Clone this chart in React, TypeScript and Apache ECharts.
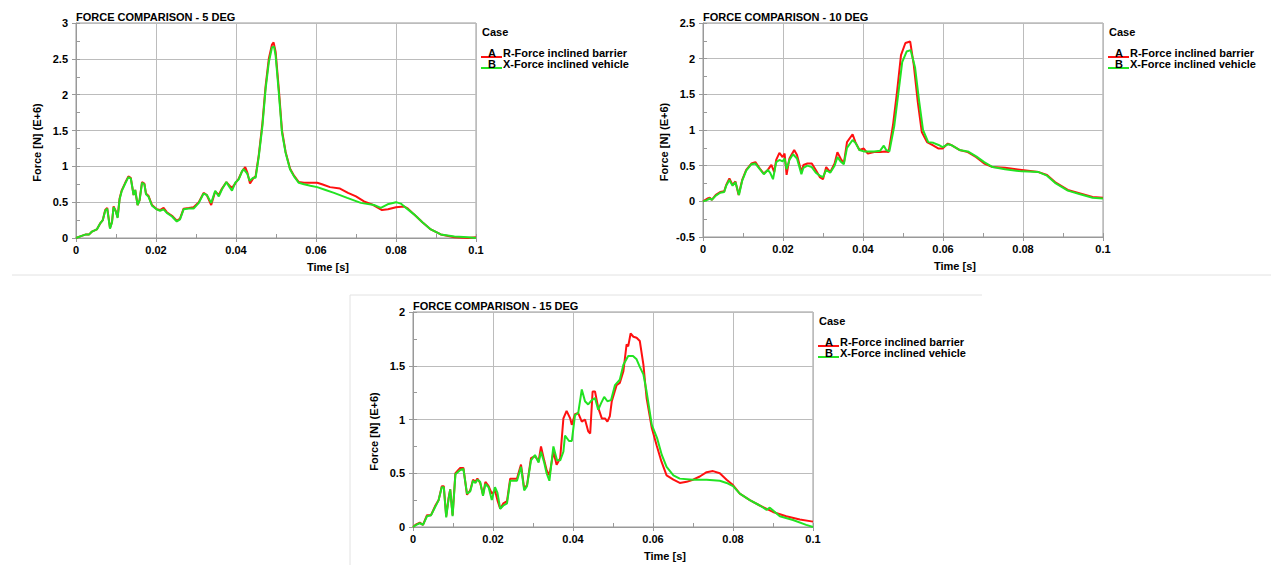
import React, { useEffect, useRef } from "react";
import * as echarts from "echarts";

const FONT = "'Liberation Sans', Arial, Helvetica, sans-serif";
const RED = "#ff1010";
const GREEN = "#22e322";

const titles = ["FORCE COMPARISON - 5 DEG", "FORCE COMPARISON - 10 DEG", "FORCE COMPARISON - 15 DEG"];
const caseLabels = ["A", "B"];
const seriesNames = ["R-Force inclined barrier", "X-Force inclined vehicle"];
const xName = "Time [s]";
const yName = "Force [N] (E+6)";
const legendTitle = "Case";

const xMin = 0, xMax = 0.1, xStep = 0.02;
const yRanges = [
  [0, 3],
  [-0.5, 2.5],
  [0, 2],
];
const yStep = 0.5;

const deg5Barrier = [
  [0, 0], [0.0014, 0.03], [0.0025, 0.05], [0.0033, 0.05], [0.004, 0.09], [0.0052, 0.12], [0.006, 0.2], [0.0067, 0.25],
  [0.0073, 0.39], [0.0078, 0.42], [0.0085, 0.14], [0.009, 0.22], [0.0094, 0.44], [0.0099, 0.38], [0.0104, 0.29],
  [0.0109, 0.55], [0.0114, 0.66], [0.0123, 0.77], [0.0131, 0.86], [0.0137, 0.84], [0.0144, 0.6], [0.0148, 0.67],
  [0.0154, 0.46], [0.0159, 0.53], [0.0165, 0.78], [0.0171, 0.76], [0.0175, 0.62], [0.0181, 0.59], [0.019, 0.46],
  [0.0202, 0.4], [0.021, 0.39], [0.0219, 0.42], [0.0227, 0.36], [0.024, 0.31], [0.0252, 0.24], [0.026, 0.27],
  [0.0269, 0.41], [0.0282, 0.42], [0.0294, 0.43], [0.0307, 0.5], [0.0319, 0.63], [0.0327, 0.6], [0.0338, 0.46],
  [0.0348, 0.65], [0.0357, 0.6], [0.0365, 0.69], [0.0376, 0.78], [0.0384, 0.73], [0.039, 0.7], [0.0398, 0.76],
  [0.0407, 0.83], [0.0415, 0.93], [0.0423, 0.99], [0.0428, 0.92], [0.0435, 0.76], [0.0443, 0.83], [0.0449, 0.86],
  [0.0457, 1.16], [0.0466, 1.6], [0.0474, 2.12], [0.0482, 2.5], [0.049, 2.7], [0.0494, 2.73], [0.0499, 2.6],
  [0.0507, 2.08], [0.0515, 1.5], [0.0524, 1.2], [0.0535, 0.97], [0.0545, 0.87], [0.0557, 0.78], [0.057, 0.77],
  [0.0586, 0.77], [0.0603, 0.77], [0.0615, 0.75], [0.0635, 0.71], [0.066, 0.69], [0.068, 0.63], [0.07, 0.58],
  [0.072, 0.51], [0.074, 0.47], [0.0765, 0.39], [0.078, 0.4], [0.08, 0.43], [0.082, 0.44], [0.083, 0.41],
  [0.0845, 0.33], [0.0866, 0.22], [0.0887, 0.12], [0.0912, 0.05], [0.0946, 0.01], [0.098, 0.0], [0.1, 0.01],
];

const deg5Vehicle = [
  [0, 0], [0.0014, 0.03], [0.0025, 0.05], [0.0033, 0.05], [0.004, 0.09], [0.0052, 0.12], [0.006, 0.2], [0.0067, 0.25],
  [0.0073, 0.38], [0.0078, 0.41], [0.0085, 0.13], [0.009, 0.22], [0.0094, 0.43], [0.0099, 0.38], [0.0104, 0.28],
  [0.0109, 0.54], [0.0114, 0.65], [0.0123, 0.76], [0.0131, 0.85], [0.0137, 0.83], [0.0144, 0.6], [0.0148, 0.67],
  [0.0154, 0.46], [0.0159, 0.53], [0.0165, 0.77], [0.0171, 0.75], [0.0175, 0.61], [0.0181, 0.58], [0.019, 0.45],
  [0.0202, 0.4], [0.021, 0.38], [0.0219, 0.4], [0.0227, 0.35], [0.024, 0.3], [0.0252, 0.23], [0.026, 0.26],
  [0.0269, 0.4], [0.0282, 0.41], [0.0294, 0.41], [0.0307, 0.49], [0.0319, 0.62], [0.0327, 0.6], [0.0338, 0.49],
  [0.0348, 0.66], [0.0357, 0.58], [0.0365, 0.68], [0.0376, 0.78], [0.0384, 0.71], [0.039, 0.66], [0.0398, 0.77],
  [0.0407, 0.82], [0.0415, 0.93], [0.0419, 0.96], [0.0428, 0.9], [0.0434, 0.8], [0.0443, 0.84], [0.0449, 0.84],
  [0.0457, 1.14], [0.0466, 1.56], [0.0474, 2.08], [0.0482, 2.45], [0.049, 2.66], [0.0495, 2.67], [0.0499, 2.55],
  [0.0507, 2.03], [0.0515, 1.47], [0.0524, 1.19], [0.0535, 0.96], [0.0545, 0.86], [0.0557, 0.77], [0.057, 0.75],
  [0.0586, 0.73], [0.0603, 0.71], [0.0624, 0.67], [0.0645, 0.63], [0.0678, 0.56], [0.0712, 0.49], [0.0745, 0.46],
  [0.0762, 0.42], [0.0779, 0.47], [0.08, 0.5], [0.0812, 0.48], [0.0825, 0.42], [0.0845, 0.33], [0.0866, 0.22],
  [0.0887, 0.12], [0.0912, 0.05], [0.0946, 0.02], [0.098, 0.01], [0.1, 0],
];

const deg10Barrier = [
  [0, 0], [0.0011, 0.04], [0.0017, 0.05], [0.0022, 0.02], [0.0032, 0.09], [0.0043, 0.13], [0.0053, 0.14],
  [0.0058, 0.23], [0.0066, 0.32], [0.0074, 0.23], [0.0081, 0.28], [0.0089, 0.09], [0.0098, 0.3], [0.0108, 0.44],
  [0.0121, 0.53], [0.0131, 0.55], [0.0142, 0.46], [0.0152, 0.39], [0.0162, 0.44], [0.0171, 0.51], [0.0178, 0.41],
  [0.0183, 0.58], [0.0191, 0.68], [0.0199, 0.62], [0.0204, 0.67], [0.0209, 0.37], [0.0216, 0.6], [0.0228, 0.72],
  [0.0235, 0.65], [0.0246, 0.41], [0.0251, 0.51], [0.0261, 0.53], [0.0272, 0.53], [0.0282, 0.44], [0.0292, 0.34],
  [0.03, 0.31], [0.0308, 0.48], [0.0318, 0.41], [0.0329, 0.53], [0.0336, 0.69], [0.0344, 0.6], [0.0352, 0.53],
  [0.036, 0.83], [0.0374, 0.94], [0.0381, 0.83], [0.0391, 0.72], [0.0402, 0.74], [0.0412, 0.67], [0.0428, 0.69],
  [0.0443, 0.69], [0.0456, 0.7], [0.0464, 0.69], [0.0475, 1.07], [0.0485, 1.53], [0.0495, 2.05], [0.0506, 2.22],
  [0.0518, 2.24], [0.0527, 1.91], [0.0537, 1.39], [0.0547, 0.97], [0.056, 0.83], [0.0573, 0.79], [0.0589, 0.74],
  [0.0599, 0.74], [0.0612, 0.81], [0.062, 0.79], [0.0641, 0.72], [0.0662, 0.69], [0.0683, 0.62], [0.0703, 0.53],
  [0.0724, 0.48], [0.0755, 0.47], [0.0797, 0.44], [0.0839, 0.41], [0.086, 0.37], [0.088, 0.27], [0.0912, 0.16],
  [0.0943, 0.11], [0.0974, 0.06], [0.1, 0.05],
];

const deg10Vehicle = [
  [0, 0], [0.0011, 0.02], [0.0017, 0.04], [0.0022, 0.02], [0.0032, 0.08], [0.0043, 0.12], [0.0053, 0.13],
  [0.0058, 0.22], [0.0066, 0.3], [0.0074, 0.22], [0.0081, 0.27], [0.009, 0.09], [0.0098, 0.29], [0.0108, 0.43],
  [0.0121, 0.52], [0.0131, 0.53], [0.0142, 0.45], [0.0152, 0.38], [0.0162, 0.44], [0.0168, 0.4], [0.0175, 0.31],
  [0.0183, 0.55], [0.0191, 0.58], [0.0199, 0.56], [0.0204, 0.6], [0.0209, 0.45], [0.0216, 0.58], [0.0225, 0.66],
  [0.0235, 0.6], [0.0246, 0.38], [0.0251, 0.47], [0.0261, 0.5], [0.0272, 0.48], [0.0282, 0.4], [0.0292, 0.36],
  [0.03, 0.34], [0.0308, 0.44], [0.0318, 0.4], [0.0329, 0.5], [0.0336, 0.62], [0.0344, 0.56], [0.0352, 0.52],
  [0.036, 0.75], [0.0374, 0.86], [0.0381, 0.82], [0.0391, 0.72], [0.0402, 0.7], [0.0412, 0.7], [0.0428, 0.7],
  [0.0443, 0.71], [0.0452, 0.78], [0.0458, 0.72], [0.0466, 0.7], [0.0478, 1.05], [0.0488, 1.5], [0.0498, 1.95],
  [0.0509, 2.1], [0.0519, 2.12], [0.053, 1.88], [0.054, 1.42], [0.055, 1.0], [0.0563, 0.83], [0.0576, 0.82],
  [0.0589, 0.79], [0.0599, 0.76], [0.0612, 0.8], [0.062, 0.79], [0.0641, 0.72], [0.0662, 0.7], [0.0683, 0.63],
  [0.0703, 0.55], [0.0724, 0.48], [0.0755, 0.45], [0.0797, 0.42], [0.0839, 0.41], [0.086, 0.36], [0.088, 0.26],
  [0.0912, 0.15], [0.0943, 0.1], [0.0974, 0.05], [0.1, 0.04],
];

const deg15Barrier = [
  [0, 0], [0.0008, 0.025], [0.0017, 0.04], [0.0025, 0.02], [0.0035, 0.11], [0.0045, 0.11], [0.0056, 0.2],
  [0.0064, 0.25], [0.0072, 0.38], [0.0077, 0.38], [0.0083, 0.1], [0.0089, 0.27], [0.0093, 0.35], [0.0099, 0.11],
  [0.0106, 0.5], [0.0118, 0.55], [0.0126, 0.55], [0.0135, 0.3], [0.0143, 0.34], [0.015, 0.44], [0.0156, 0.42],
  [0.0161, 0.45], [0.0168, 0.41], [0.0175, 0.3], [0.0181, 0.42], [0.0189, 0.38], [0.0197, 0.31], [0.0205, 0.34],
  [0.0211, 0.25], [0.0218, 0.17], [0.0226, 0.22], [0.0235, 0.24], [0.0243, 0.45], [0.0251, 0.45], [0.026, 0.45],
  [0.027, 0.58], [0.0278, 0.36], [0.0285, 0.39], [0.0295, 0.64], [0.0305, 0.66], [0.0314, 0.61], [0.032, 0.75],
  [0.0328, 0.62], [0.0334, 0.53], [0.0341, 0.48], [0.0351, 0.7], [0.0359, 0.58], [0.0368, 0.64], [0.0376, 1.01],
  [0.0384, 1.08], [0.0393, 1.01], [0.0397, 0.95], [0.0405, 1.05], [0.0413, 1.06], [0.0422, 0.98], [0.043, 1.0],
  [0.0438, 0.89], [0.0443, 0.87], [0.0449, 1.26], [0.0455, 1.26], [0.0463, 1.11], [0.0472, 1.01], [0.048, 1.01],
  [0.0486, 0.98], [0.0492, 1.03], [0.0497, 1.17], [0.0509, 1.32], [0.0517, 1.34], [0.0526, 1.45], [0.0534, 1.7],
  [0.0538, 1.68], [0.0544, 1.8], [0.0551, 1.77], [0.0559, 1.76], [0.0567, 1.73], [0.0576, 1.51], [0.0584, 1.2],
  [0.0597, 0.92], [0.0609, 0.76], [0.0621, 0.61], [0.0634, 0.48], [0.0651, 0.44], [0.0667, 0.41], [0.0684, 0.42],
  [0.07, 0.44], [0.0717, 0.47], [0.0734, 0.51], [0.075, 0.52], [0.0767, 0.5], [0.0784, 0.44], [0.08, 0.39],
  [0.0817, 0.31], [0.0842, 0.25], [0.0867, 0.2], [0.09, 0.14], [0.0933, 0.1], [0.0967, 0.07], [0.1, 0.05],
];

const deg15Vehicle = [
  [0, 0], [0.0008, 0.02], [0.0017, 0.035], [0.0025, 0.02], [0.0035, 0.1], [0.0045, 0.11], [0.0056, 0.19],
  [0.0064, 0.25], [0.0072, 0.37], [0.0077, 0.37], [0.0083, 0.09], [0.0089, 0.26], [0.0093, 0.35], [0.0099, 0.1],
  [0.0106, 0.49], [0.0118, 0.53], [0.0126, 0.54], [0.0135, 0.31], [0.0143, 0.33], [0.015, 0.43], [0.0156, 0.41],
  [0.0161, 0.44], [0.0168, 0.42], [0.0175, 0.29], [0.0181, 0.4], [0.0189, 0.37], [0.0197, 0.25], [0.0205, 0.37],
  [0.0211, 0.32], [0.0218, 0.17], [0.0226, 0.2], [0.0235, 0.22], [0.0243, 0.43], [0.0251, 0.43], [0.026, 0.43],
  [0.027, 0.56], [0.0278, 0.34], [0.0285, 0.38], [0.0295, 0.62], [0.0305, 0.67], [0.0314, 0.6], [0.032, 0.7],
  [0.0328, 0.6], [0.0334, 0.5], [0.0341, 0.43], [0.0351, 0.75], [0.036, 0.62], [0.0368, 0.62], [0.0376, 0.7],
  [0.038, 0.85], [0.039, 0.8], [0.0397, 0.8], [0.0405, 1.04], [0.0413, 1.06], [0.0422, 1.28], [0.043, 1.17],
  [0.0438, 1.14], [0.0447, 1.18], [0.0455, 1.2], [0.0463, 1.09], [0.047, 1.15], [0.0478, 1.21], [0.0486, 1.17],
  [0.0495, 1.18], [0.0505, 1.32], [0.0517, 1.37], [0.0526, 1.51], [0.0538, 1.59], [0.055, 1.59], [0.0559, 1.56],
  [0.0567, 1.49], [0.0576, 1.42], [0.0584, 1.26], [0.0597, 0.95], [0.061, 0.83], [0.0622, 0.67], [0.0634, 0.56],
  [0.0651, 0.48], [0.0667, 0.45], [0.07, 0.44], [0.0734, 0.44], [0.0767, 0.43], [0.0784, 0.41], [0.08, 0.38],
  [0.0817, 0.31], [0.0842, 0.25], [0.0867, 0.2], [0.0884, 0.16], [0.0892, 0.18], [0.0917, 0.1], [0.095, 0.065],
  [0.0983, 0.02], [0.1, 0],
];

const chartData = [
  [deg5Barrier, deg5Vehicle],
  [deg10Barrier, deg10Vehicle],
  [deg15Barrier, deg15Vehicle],
];

// layout (pixels)
const grids = [
  { left: 76, top: 23, width: 400, height: 215 },
  { left: 703, top: 23, width: 400, height: 214 },
  { left: 413, top: 312, width: 400, height: 215 },
];

const AXIS_COLOR = "#999999";
const GRID_COLOR = "#bcbcbc";
const textBase = { fontFamily: FONT, fontWeight: "bold" as const, fontSize: 11, color: "#000" };

function buildOption() {
  const xAxis: any[] = [];
  const yAxis: any[] = [];
  const series: any[] = [];
  const title: any[] = [];
  const graphic: any[] = [];

  grids.forEach((g, gi) => {
    const [ymin, ymax] = yRanges[gi];
    xAxis.push({
      type: "value", gridIndex: gi, min: xMin, max: xMax, interval: xStep, position: "bottom",
      axisLine: { show: true, onZero: false, lineStyle: { color: AXIS_COLOR, width: 1 } },
      axisTick: { show: true, inside: false, length: 4, lineStyle: { color: AXIS_COLOR } },
      axisLabel: { ...textBase, margin: 6, showMinLabel: true, showMaxLabel: true },
      splitLine: { show: true, lineStyle: { color: GRID_COLOR, width: 1 } },
      name: xName, nameLocation: "middle", nameGap: 23,
      nameTextStyle: { ...textBase, padding: [0, 0, 0, 104] },
    });
    xAxis.push({
      type: "value", gridIndex: gi, min: xMin, max: xMax, interval: xStep / 2, position: "bottom",
      axisLine: { show: false, onZero: false },
      axisTick: { show: true, inside: true, length: 4, lineStyle: { color: AXIS_COLOR } },
      axisLabel: { show: false }, splitLine: { show: false },
    });
    yAxis.push({
      type: "value", gridIndex: gi, min: ymin, max: ymax, interval: yStep, position: "left",
      axisLine: { show: true, onZero: false, lineStyle: { color: AXIS_COLOR, width: 1 } },
      axisTick: { show: true, inside: false, length: 4, lineStyle: { color: AXIS_COLOR } },
      axisLabel: { ...textBase, margin: 8, showMinLabel: true, showMaxLabel: true },
      splitLine: { show: true, lineStyle: { color: GRID_COLOR, width: 1 } },
      name: yName, nameLocation: "middle", nameGap: 34,
      nameTextStyle: { ...textBase, padding: [0, 24, 0, 0] },
    });
    yAxis.push({
      type: "value", gridIndex: gi, min: ymin, max: ymax, interval: yStep / 2, position: "left",
      axisLine: { show: false, onZero: false },
      axisTick: { show: true, inside: true, length: 4, lineStyle: { color: AXIS_COLOR } },
      axisLabel: { show: false }, splitLine: { show: false },
    });

    const colors = [RED, GREEN];
    chartData[gi].forEach((d, si) => {
      series.push({
        type: "line", name: seriesNames[si], xAxisIndex: gi * 2, yAxisIndex: gi * 2, data: d,
        showSymbol: false, symbol: "none", smooth: false,
        lineStyle: { color: colors[si], width: 2 }, itemStyle: { color: colors[si] },
        z: 3 + si,
      });
    });

    title.push({
      text: titles[gi], left: g.left, top: g.top - 12, padding: 0,
      textStyle: { ...textBase, fontSize: 11 },
    });

    const R = g.left + g.width;
    const T = g.top;
    graphic.push({
      type: "text", x: R + 6, y: T + 9,
      style: { text: legendTitle, font: `bold 11px ${FONT}`, fill: "#000", verticalAlign: "middle", align: "left" },
    });
    caseLabels.forEach((lab, si) => {
      const ly = T + 30 + si * 11;
      graphic.push({
        type: "line", shape: { x1: R + 5, y1: ly + 4, x2: R + 26, y2: ly + 4 },
        style: { stroke: colors[si], lineWidth: 2 },
      });
      graphic.push({
        type: "text", x: R + 16, y: ly,
        style: { text: lab, font: `bold 11px ${FONT}`, fill: "#000", verticalAlign: "middle", align: "center" },
      });
      graphic.push({
        type: "text", x: R + 27, y: ly,
        style: { text: seriesNames[si], font: `bold 11px ${FONT}`, fill: "#000", verticalAlign: "middle", align: "left" },
      });
    });
  });

  // separators
  graphic.push({ type: "line", shape: { x1: 12, y1: 275, x2: 1271, y2: 275 }, style: { stroke: "#e2e2e2", lineWidth: 1 } });
  graphic.push({ type: "line", shape: { x1: 350, y1: 295, x2: 982, y2: 295 }, style: { stroke: "#e2e2e2", lineWidth: 1 } });
  graphic.push({ type: "line", shape: { x1: 350, y1: 295, x2: 350, y2: 565 }, style: { stroke: "#e2e2e2", lineWidth: 1 } });

  return {
    animation: false,
    backgroundColor: "#ffffff",
    title,
    grid: grids.map((g) => ({ ...g, show: true, borderColor: AXIS_COLOR, borderWidth: 1, backgroundColor: "transparent" })),
    xAxis,
    yAxis,
    series,
    graphic,
  };
}

export default function App() {
  const ref = useRef<HTMLDivElement>(null);
  useEffect(() => {
    if (!ref.current) return;
    const chart = echarts.init(ref.current, null, { renderer: "svg" });
    chart.setOption(buildOption() as any);
    return () => chart.dispose();
  }, []);
  return (
    <div
      ref={ref}
      style={{ position: "fixed", left: 0, top: 0, width: 1283, height: 565, background: "#fff" }}
    />
  );
}
